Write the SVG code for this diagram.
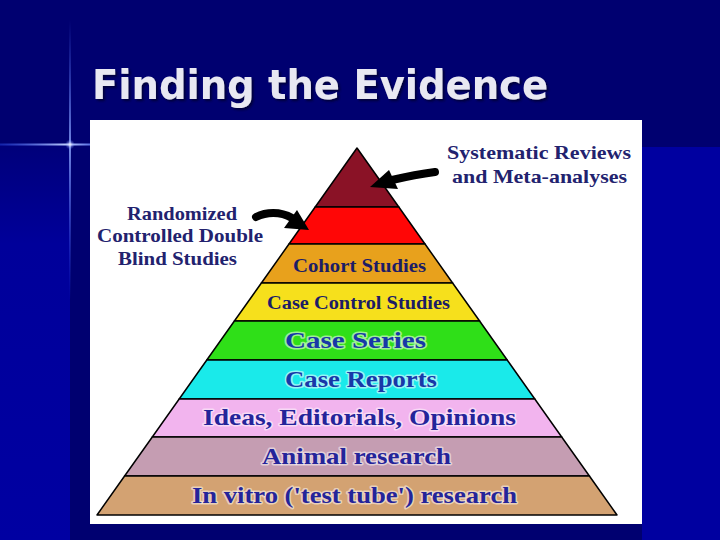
<svg xmlns="http://www.w3.org/2000/svg" width="720" height="540" viewBox="0 0 720 540">
  <defs>
    <linearGradient id="leftBg" x1="0" y1="0" x2="0" y2="1">
      <stop offset="0" stop-color="#00007a"/>
      <stop offset="0.25" stop-color="#00009a"/>
      <stop offset="1" stop-color="#0000a2"/>
    </linearGradient>
    <linearGradient id="vline" gradientUnits="userSpaceOnUse" x1="0" y1="20" x2="0" y2="300">
      <stop offset="0" stop-color="#4a6cff" stop-opacity="0"/>
      <stop offset="0.45" stop-color="#8fa8ff" stop-opacity="1"/>
      <stop offset="1" stop-color="#3050ff" stop-opacity="0"/>
    </linearGradient>
    <linearGradient id="hline" gradientUnits="userSpaceOnUse" x1="0" y1="0" x2="90" y2="0">
      <stop offset="0" stop-color="#2f55ff" stop-opacity="0.4"/>
      <stop offset="0.75" stop-color="#c0d0ff" stop-opacity="1"/>
      <stop offset="1" stop-color="#6f8cff" stop-opacity="0.8"/>
    </linearGradient>
    <radialGradient id="glow" cx="0.5" cy="0.5" r="0.5">
      <stop offset="0" stop-color="#ffffff" stop-opacity="0.9"/>
      <stop offset="1" stop-color="#6080ff" stop-opacity="0"/>
    </radialGradient>
    <filter id="shadow" x="-5%" y="-20%" width="110%" height="140%">
      <feDropShadow dx="2" dy="2" stdDeviation="0.8" flood-color="#000022" flood-opacity="0.7"/>
    </filter>
  </defs>
  <style>
    .lbl { font-family: "Liberation Serif", "Times New Roman", serif; font-weight: bold; }
    .dark { fill: #1c1c66; }
    .blue { fill: #1838a8; stroke: #ffffff; stroke-width: 3; stroke-opacity: 0.55; paint-order: stroke; stroke-linejoin: round; }
    .navy { fill: #24249a; stroke: #ffffff; stroke-width: 3; stroke-opacity: 0.5; paint-order: stroke; stroke-linejoin: round; }
    .side { fill: #22226e; }
    .band { stroke: #000000; stroke-width: 1.5; stroke-linejoin: round; }
    .arrow { fill: none; stroke: #000000; stroke-width: 8; stroke-linecap: round; }
  </style>

  <!-- background -->
  <rect x="0" y="0" width="720" height="540" fill="#000070"/>
  <rect x="0" y="145" width="70" height="395" fill="url(#leftBg)"/>
  <rect x="642" y="147" width="78" height="393" fill="#0000a0"/>
  <rect x="69.2" y="20" width="1.6" height="280" fill="url(#vline)"/>
  <rect x="0" y="143.5" width="90" height="2" fill="url(#hline)"/>
  <circle cx="70" cy="144.5" r="5" fill="url(#glow)"/>

  <!-- title -->
  <g id="title">
    <text x="92" y="99" font-family="'DejaVu Sans', Verdana, sans-serif" font-weight="bold" font-size="40" fill="#e8e8f2" textLength="456" lengthAdjust="spacingAndGlyphs" filter="url(#shadow)">Finding the Evidence</text>
  </g>

  <!-- white panel -->
  <rect x="90" y="120" width="552" height="404" fill="#ffffff"/>

  <!-- pyramid -->
  <g id="pyramid">
    <g id="level-systematic"><polygon class="band" points="357,148 398.8,207 315.2,207" fill="#8a1226"/></g>
    <g id="level-rct"><polygon class="band" points="315.2,207 398.8,207 425,244 289,244" fill="#ff0606"/></g>
    <g id="level-cohort">
      <polygon class="band" points="289,244 425,244 452.6,283 261.4,283" fill="#e8a11c"/>
      <text class="lbl dark" x="293" y="272" font-size="19" textLength="133" lengthAdjust="spacingAndGlyphs">Cohort Studies</text>
    </g>
    <g id="level-casecontrol">
      <polygon class="band" points="261.4,283 452.6,283 479.6,321 234.4,321" fill="#f6e01c"/>
      <text class="lbl dark" x="267" y="309" font-size="18" textLength="183" lengthAdjust="spacingAndGlyphs">Case Control Studies</text>
    </g>
    <g id="level-caseseries">
      <polygon class="band" points="234.4,321 479.6,321 507.2,360 206.8,360" fill="#2fdf18"/>
      <text class="lbl blue" x="285" y="348" font-size="24" textLength="141" lengthAdjust="spacingAndGlyphs">Case Series</text>
    </g>
    <g id="level-casereports">
      <polygon class="band" points="206.8,360 507.2,360 534.8,399 179.2,399" fill="#1aeaea"/>
      <text class="lbl blue" x="285" y="387" font-size="24" textLength="152" lengthAdjust="spacingAndGlyphs">Case Reports</text>
    </g>
    <g id="level-ideas">
      <polygon class="band" points="179.2,399 534.8,399 561.7,437 152.3,437" fill="#f2b4ee"/>
      <text class="lbl navy" x="203" y="425" font-size="24" textLength="313" lengthAdjust="spacingAndGlyphs">Ideas, Editorials, Opinions</text>
    </g>
    <g id="level-animal">
      <polygon class="band" points="152.3,437 561.7,437 589.4,476 124.6,476" fill="#c59db2"/>
      <text class="lbl navy" x="262" y="464" font-size="24" textLength="189" lengthAdjust="spacingAndGlyphs">Animal research</text>
    </g>
    <g id="level-invitro">
      <polygon class="band" points="124.6,476 589.4,476 617,515 97,515" fill="#d3a272"/>
      <text class="lbl navy" x="192" y="503" font-size="24" textLength="325" lengthAdjust="spacingAndGlyphs">In vitro ('test tube') research</text>
    </g>
  </g>

  <!-- side labels -->
  <g id="label-rct">
    <text class="lbl side" x="127" y="220" font-size="19" textLength="110" lengthAdjust="spacingAndGlyphs">Randomized</text>
    <text class="lbl side" x="97" y="242" font-size="19" textLength="166" lengthAdjust="spacingAndGlyphs">Controlled Double</text>
    <text class="lbl side" x="118" y="265" font-size="19" textLength="119" lengthAdjust="spacingAndGlyphs">Blind Studies</text>
  </g>
  <g id="label-systematic">
    <text class="lbl side" x="447" y="159" font-size="19" textLength="184" lengthAdjust="spacingAndGlyphs">Systematic Reviews</text>
    <text class="lbl side" x="452" y="183" font-size="19" textLength="175" lengthAdjust="spacingAndGlyphs">and Meta-analyses</text>
  </g>

  <!-- connectors -->
  <g id="connectors">
    <path class="arrow" d="M256,217 C266,212 280,211 292,218"/>
    <polygon points="309,230 284,228 297,210" fill="#000000"/>
    <path class="arrow" d="M435,172 C420,174 405,177 392,180"/>
    <polygon points="370,187 389,170 398,189" fill="#000000"/>
  </g>
</svg>
